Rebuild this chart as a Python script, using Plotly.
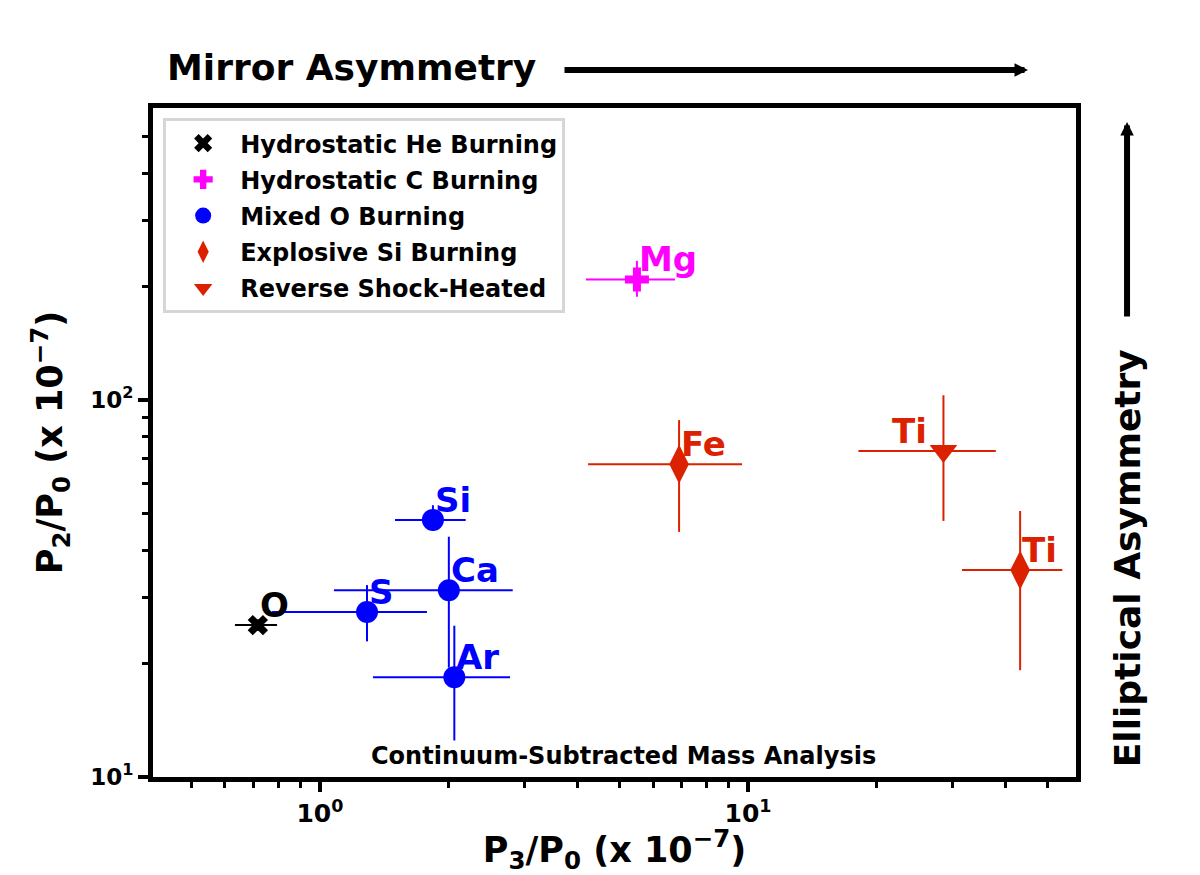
import numpy as np
import plotly.graph_objects as go

# ---- data ----
he_labels = ["O"]
he_x = [0.716]; he_y = [25.3]
he_xlo = [0.633]; he_xhi = [0.794]
he_ylo = [24.4]; he_yhi = [26.2]

c_labels = ["Mg"]
c_x = [5.50]; c_y = [209.0]
c_xlo = [4.18]; c_xhi = [6.75]
c_ylo = [188.0]; c_yhi = [234.0]

o_labels = ["Si", "S", "Ca", "Ar"]
o_x = [1.836, 1.288, 2.00, 2.06]
o_y = [48.1, 27.4, 31.3, 18.4]
o_xlo = [1.497, 0.773, 1.078, 1.33]
o_xhi = [2.19, 1.778, 2.82, 2.78]
o_ylo = [45.0, 22.9, 19.5, 12.5]
o_yhi = [52.6, 32.3, 43.4, 25.2]

si_labels = ["Fe", "Ti"]
si_x = [6.90, 43.2]
si_y = [67.6, 35.4]
si_xlo = [4.23, 31.6]
si_xhi = [9.68, 54.2]
si_ylo = [44.7, 19.2]
si_yhi = [88.5, 50.8]

rs_labels = ["Ti"]
rs_x = [28.6]; rs_y = [73.3]
rs_xlo = [18.1]; rs_xhi = [37.9]
rs_ylo = [47.8]; rs_yhi = [103.0]

x_tickvals = [1, 10]
x_ticktext = ["<b>10<sup>0</sup></b>", "<b>10<sup>1</sup></b>"]
y_tickvals = [10, 100]
y_ticktext = ["<b>10<sup>1</sup></b>", "<b>10<sup>2</sup></b>"]

RED = "#dc2100"
FONT = "DejaVu Sans"

groups = [
    ("Hydrostatic He Burning", he_labels, he_x, he_y, he_xlo, he_xhi, he_ylo, he_yhi, "black", "x", 18, "right"),
    ("Hydrostatic C Burning", c_labels, c_x, c_y, c_xlo, c_xhi, c_ylo, c_yhi, "#ff00ff", "cross", 20, "right"),
    ("Mixed O Burning", o_labels, o_x, o_y, o_xlo, o_xhi, o_ylo, o_yhi, "#0000ff", "circle", 22, "right"),
    ("Explosive Si Burning", si_labels, si_x, si_y, si_xlo, si_xhi, si_ylo, si_yhi, RED, "diamond-tall", 28, "right"),
    ("Reverse Shock-Heated", rs_labels, rs_x, rs_y, rs_xlo, rs_xhi, rs_ylo, rs_yhi, RED, "triangle-down", 24, "left"),
]

fig = go.Figure()
annotations = []
for i, (name, labs, xs, ys, xlo, xhi, ylo, yhi, col, sym, size, side) in enumerate(groups):
    xs_a = np.array(xs); ys_a = np.array(ys)
    fig.add_trace(go.Scatter(
        x=xs, y=ys, mode="markers", name="<b>" + name + "</b>", legendgroup="g%d" % i,
        marker=dict(color=col, symbol=sym, size=size, line=dict(width=0)),
        error_x=dict(type="data", symmetric=False,
                     array=list(np.array(xhi) - xs_a), arrayminus=list(xs_a - np.array(xlo)),
                     color=col, thickness=2, width=0),
        error_y=dict(type="data", symmetric=False,
                     array=list(np.array(yhi) - ys_a), arrayminus=list(ys_a - np.array(ylo)),
                     color=col, thickness=2, width=0),
    ))
    for lab, xv, yv in zip(labs, xs, ys):
        annotations.append(dict(
            x=float(np.log10(xv)), y=float(np.log10(yv)), xref="x", yref="y",
            text="<b>" + lab + "</b>", showarrow=False,
            xanchor="left" if side == "right" else "right", yanchor="bottom",
            xshift=0 if side == "right" else -14, yshift=-2,
            font=dict(family=FONT, size=34, color=col),
        ))

# extra texts
annotations += [
    dict(x=0.510, y=0.031, xref="paper", yref="paper", text="<b>Continuum-Subtracted Mass Analysis</b>",
         showarrow=False, xanchor="center", yanchor="middle", font=dict(family=FONT, size=24, color="black")),
    dict(x=0.0125, y=1.0598, xref="paper", yref="paper", text="<b>Mirror Asymmetry</b>",
         showarrow=False, xanchor="left", yanchor="middle", font=dict(family=FONT, size=36, color="black")),
    dict(x=0.948, y=1.0568, xref="paper", yref="paper", text="", showarrow=True,
         ax=-465, ay=0, axref="pixel", ayref="pixel", arrowhead=2, arrowsize=0.45, arrowwidth=6, arrowcolor="black"),
    dict(x=1.0553, y=0.327, xref="paper", yref="paper", text="<b>Elliptical Asymmetry</b>", textangle=-90,
         showarrow=False, xanchor="center", yanchor="middle", font=dict(family=FONT, size=36, color="black")),
    dict(x=1.0553, y=0.979, xref="paper", yref="paper", text="", showarrow=True,
         ax=0, ay=196, axref="pixel", ayref="pixel", arrowhead=2, arrowsize=0.45, arrowwidth=6, arrowcolor="black"),
]

x_minor = [0.5, 0.6, 0.7, 0.8, 0.9, 2, 3, 4, 5, 6, 7, 8, 9, 20, 30, 40, 50]
y_minor = [20, 30, 40, 50, 60, 70, 80, 90, 200, 300, 400, 500, 600]

fig.update_layout(
    width=1200, height=875,
    margin=dict(l=153, r=124, t=108, b=98),
    paper_bgcolor="white", plot_bgcolor="white",
    font=dict(family=FONT, color="black"),
    showlegend=True,
    legend=dict(x=0.011, y=0.985, xanchor="left", yanchor="top",
                bgcolor="white", bordercolor="#d6d6d6", borderwidth=3,
                font=dict(family=FONT, size=24, color="black"), itemwidth=64,
                tracegroupgap=2, traceorder="grouped"),
    annotations=annotations,
    xaxis=dict(type="log", range=[-0.390, 1.766],
               showgrid=False, zeroline=False, showline=True, linewidth=5, linecolor="black", mirror=True,
               ticks="outside", ticklen=10, tickwidth=4, tickcolor="black",
               tickvals=x_tickvals, ticktext=x_ticktext, tickfont=dict(family=FONT, size=25),
               minor=dict(tickvals=x_minor, ticks="outside", ticklen=6, tickwidth=3, tickcolor="black", showgrid=False),
               title=dict(text="<b>P<sub>3</sub>/P<sub>0</sub> (x 10<sup>−7</sup>)</b>",
                          font=dict(family=FONT, size=35), standoff=10)),
    yaxis=dict(type="log", range=[1, 2.775],
               showgrid=False, zeroline=False, showline=True, linewidth=5, linecolor="black", mirror=True,
               ticks="outside", ticklen=10, tickwidth=4, tickcolor="black",
               tickvals=y_tickvals, ticktext=y_ticktext, tickfont=dict(family=FONT, size=23),
               minor=dict(tickvals=y_minor, ticks="outside", ticklen=6, tickwidth=3, tickcolor="black", showgrid=False),
               title=dict(text="<b>P<sub>2</sub>/P<sub>0</sub> (x 10<sup>−7</sup>)</b>",
                          font=dict(family=FONT, size=35), standoff=18)),
)

fig.write_html("out.html", config={"displayModeBar": False},
               post_script="document.body.style.margin='0px';")
